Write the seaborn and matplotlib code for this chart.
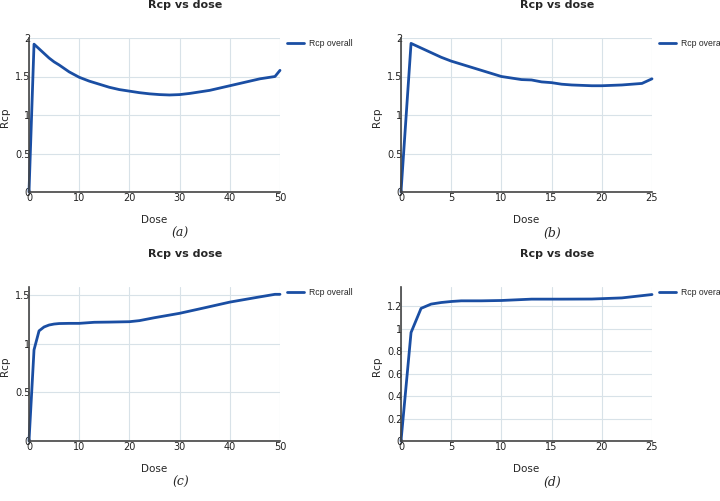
import numpy as np
import pandas as pd
import seaborn as sns
import matplotlib.pyplot as plt

# Panel (a): dose 0-50
dose_a = [0, 1, 2, 3, 4, 5, 6, 8, 10, 12, 14, 16, 18, 20, 22, 24, 26, 28, 30,
          32, 34, 36, 38, 40, 42, 44, 46, 48, 49, 50]
rcp_a = [0, 1.92, 1.86, 1.80, 1.74, 1.69, 1.65, 1.56, 1.49, 1.44, 1.40, 1.36,
         1.33, 1.31, 1.29, 1.275, 1.265, 1.26, 1.265, 1.28, 1.30, 1.32, 1.35,
         1.38, 1.41, 1.44, 1.47, 1.49, 1.50, 1.58]

# Panel (b): dose 0-25
dose_b = list(range(0, 26))
rcp_b = [0, 1.93, 1.87, 1.81, 1.75, 1.70, 1.66, 1.62, 1.58, 1.54, 1.50, 1.48,
         1.46, 1.455, 1.43, 1.42, 1.40, 1.39, 1.385, 1.38, 1.38, 1.385, 1.39,
         1.40, 1.41, 1.47]

# Panel (c): dose 0-50
dose_c = [0, 1, 2, 3, 4, 5, 6, 8, 10, 13, 16, 20, 22, 25, 30, 35, 40, 45, 49, 50]
rcp_c = [0, 0.935, 1.13, 1.17, 1.19, 1.20, 1.205, 1.207, 1.207, 1.218, 1.22,
         1.224, 1.235, 1.265, 1.31, 1.367, 1.425, 1.47, 1.505, 1.505]

# Panel (d): dose 0-25
dose_d = [0, 1, 2, 3, 4, 5, 6, 8, 10, 13, 16, 19, 22, 25]
rcp_d = [0, 0.965, 1.18, 1.218, 1.232, 1.241, 1.247, 1.247, 1.25, 1.262,
         1.262, 1.263, 1.273, 1.303]

line_color = "#1a4ea3"
grid_color = "#d8e2e8"
spine_color = "#444444"

sns.set_style("white")
plt.rcParams["font.family"] = ["DejaVu Sans"]

fig = plt.figure(figsize=(7.2, 5.01), dpi=100)

W, H = 720, 501
# (left px, top px, x max, y max, yticks, xticks, data, tag)
panels = [
    (29, 38, 50, 2.0, [0, 0.5, 1, 1.5, 2], [0, 10, 20, 30, 40, 50], dose_a, rcp_a, "(a)"),
    (401, 38, 25, 2.0, [0, 0.5, 1, 1.5, 2], [0, 5, 10, 15, 20, 25], dose_b, rcp_b, "(b)"),
    (29, 287, 50, 1.58, [0, 0.5, 1, 1.5], [0, 10, 20, 30, 40, 50], dose_c, rcp_c, "(c)"),
    (401, 287, 25, 1.37, [0, 0.2, 0.4, 0.6, 0.8, 1, 1.2], [0, 5, 10, 15, 20, 25], dose_d, rcp_d, "(d)"),
]

for left, top, xmax, ymax, yticks, xticks, x, y, tag in panels:
    aw, ah = 251, 154
    ax = fig.add_axes([left / W, 1 - (top + ah) / H, aw / W, ah / H])
    df = pd.DataFrame({"Dose": x, "Rcp": y})
    sns.lineplot(data=df, x="Dose", y="Rcp", ax=ax, color=line_color,
                 linewidth=2, label="Rcp overall", clip_on=False)
    ax.set_xlim(0, xmax)
    ax.set_ylim(0, ymax)
    ax.set_xticks(xticks)
    ax.set_yticks(yticks)
    ax.set_xticklabels([f"{t:g}" for t in xticks])
    ax.set_yticklabels([f"{t:g}" for t in yticks])
    ax.grid(True, color=grid_color, linewidth=0.8)
    for s in ["top", "right"]:
        ax.spines[s].set_visible(False)
    for s in ["left", "bottom"]:
        ax.spines[s].set_color(spine_color)
        ax.spines[s].set_linewidth(1.2)
    ax.tick_params(axis="both", length=0, labelsize=7, colors="#222222")
    ax.tick_params(axis="y", pad=-1)
    ax.tick_params(axis="x", pad=1)
    ax.set_xlabel("")
    ax.set_ylabel("")
    ax.legend_.remove()

    # legend drawn next to the axes, narrow font so it nearly fits at the edge
    ax.legend(loc="upper left", bbox_to_anchor=(1.005, 1.03), frameon=False,
              prop={"family": "Liberation Sans", "size": 6.2},
              handlelength=1.9, handletextpad=0.6, borderaxespad=0.3)

    cx = left + aw / 2
    fig.text((left + 156) / W, 1 - (top - 33) / H, "Rcp vs dose",
             ha="center", va="center", fontsize=8, fontweight="bold")
    fig.text(cx / W, 1 - (top + 182) / H, "Dose", ha="center",
             va="center", fontsize=7.5)
    fig.text((cx + 26) / W, 1 - (top + 195) / H, tag, ha="center",
             va="center", fontsize=9, family="DejaVu Serif", style="italic")
    fig.text((left - 24) / W, 1 - (top + 79) / H, "Rcp", ha="center",
             va="center", fontsize=7.5, rotation=90)

fig.savefig("out.png", dpi=100, facecolor="white")
